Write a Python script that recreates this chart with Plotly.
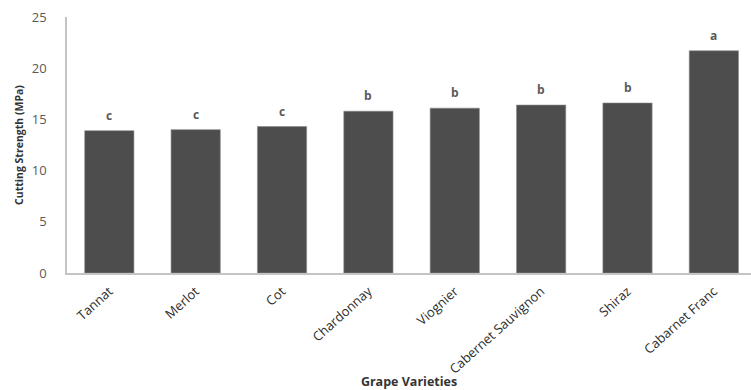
import plotly.graph_objects as go

varieties = ["Tannat", "Merlot", "Cot", "Chardonnay", "Viognier",
             "Cabernet Sauvignon", "Shiraz", "Cabarnet Franc"]
strength = [13.9, 14.0, 14.3, 15.8, 16.1, 16.4, 16.6, 21.7]
groups = ["c", "c", "c", "b", "b", "b", "b", "a"]

y_ticks = [0, 5, 10, 15, 20, 25]

fig = go.Figure()
fig.add_trace(go.Bar(
    x=varieties,
    y=strength,
    width=0.57,
    marker=dict(color="#4d4d4d", line=dict(color="#8a8a8a", width=0.6)),
    hoverinfo="x+y",
))

# significance letters above each bar
for v, s, g in zip(varieties, strength, groups):
    fig.add_annotation(
        x=v, y=s, text=g, showarrow=False, yanchor="bottom", yshift=5,
        font=dict(family="Open Sans", size=12, color="#5a5a5a", weight="bold"),
    )

fig.update_layout(
    width=751, height=390,
    margin=dict(l=67, r=0, t=17, b=117),
    paper_bgcolor="white", plot_bgcolor="white",
    showlegend=False,
    font=dict(family="Open Sans", color="#333333"),
    xaxis=dict(
        type="category",
        range=[-0.49, 7.43],
        automargin=False,
        showline=True, linecolor="#c4c4c4", linewidth=1.5,
        showgrid=False, ticks="",
        tickangle=-42,
        tickfont=dict(family="Open Sans", size=13, color="#2b2b2b"),
        ticklabelstandoff=4,
        title=dict(text="Grape Varieties", standoff=8,
                   font=dict(family="Open Sans", size=12.5, color="#333333", weight="bold")),
    ),
    yaxis=dict(
        range=[0, 25],
        tickvals=y_ticks,
        automargin=False,
        showline=True, linecolor="#c4c4c4", linewidth=1.5,
        showgrid=False, ticks="", zeroline=False,
        tickfont=dict(family="Open Sans", size=13, color="#595959"),
        ticklabelstandoff=16,
        title=dict(text="Cutting Strength (MPa)", standoff=6,
                   font=dict(family="Open Sans", size=10.5, color="#333333", weight="bold")),
    ),
)

fig.write_html("out.html")
